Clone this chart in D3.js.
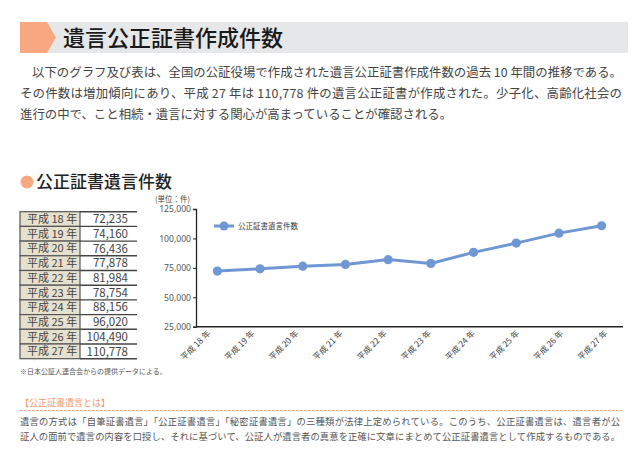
<!DOCTYPE html>
<html>
<head>
<meta charset="utf-8">
<script src="https://cdn.jsdelivr.net/npm/d3@7"></script>
<style>
  body { margin: 0; background: #fff; }
  svg { display: block; font-family: "Noto Sans CJK JP", "Noto Sans", sans-serif; }
</style>
</head>
<body>
<script>
// data
const years = ['平成 18 年', '平成 19 年', '平成 20 年', '平成 21 年', '平成 22 年',
               '平成 23 年', '平成 24 年', '平成 25 年', '平成 26 年', '平成 27 年'];
const counts = [72235, 74160, 76436, 77878, 81984, 78754, 88156, 96020, 104490, 110778];
const yTicks = [25000, 50000, 75000, 100000, 125000];
const seriesName = '公正証書遺言件数';

const title = '遺言公正証書作成件数';
const introLines = [
  '以下のグラフ及び表は、全国の公証役場で作成された遺言公正証書作成件数の過去 10 年間の推移である。',
  'その件数は増加傾向にあり、平成 27 年は 110,778 件の遺言公正証書が作成された。少子化、高齢化社会の',
  '進行の中で、こと相続・遺言に対する関心が高まっていることが確認される。'
];
const noteLines = [
  '遺言の方式は「自筆証書遺言」「公正証書遺言」「秘密証書遺言」の三種類が法律上定められている。このうち、公正証書遺言は、遺言者が公',
  '証人の面前で遺言の内容を口授し、それに基づいて、公証人が遺言者の真意を正確に文章にまとめて公正証書遺言として作成するものである。'
];

const W = 640, H = 458;
const orange = '#f7a881';
const blue = '#6f97d3';

const svg = d3.select('body').append('svg')
    .attr('width', W)
    .attr('height', H);

// title bar
svg.append('rect')
    .attr('x', 20).attr('y', 22).attr('width', 608).attr('height', 31)
    .attr('fill', '#e6e7e9');
svg.append('path')
    .attr('d', 'M20,22 H47 L56,37.5 L47,53 H20 Z')
    .attr('fill', orange);
svg.append('text')
    .attr('x', 63).attr('y', 38).attr('dy', '0.36em')
    .attr('font-size', 22).attr('font-weight', 500)
    .attr('fill', '#1a1a1a')
    .text(title);

// intro paragraph
svg.selectAll('.intro')
    .data(introLines)
    .join('text')
    .attr('class', 'intro')
    .attr('x', (d, i) => i === 0 ? 32 : 20)
    .attr('y', (d, i) => 73 + i * 21)
    .attr('dy', '0.36em')
    .attr('font-size', 12.4)
    .attr('fill', '#444')
    .attr('textLength', (d, i) => i === 0 ? 590 : (i === 1 ? 602 : null))
    .attr('lengthAdjust', 'spacing')
    .text(d => d);

// section heading
svg.append('circle').attr('cx', 27).attr('cy', 182).attr('r', 6.5).attr('fill', orange);
svg.append('text')
    .attr('x', 36).attr('y', 182).attr('dy', '0.36em')
    .attr('font-size', 17).attr('font-weight', 500)
    .attr('fill', '#222')
    .text(seriesName);

// table
const rowH = 14.7, tX = 20, tY = 211.7, colW = 60, valW = 57;
const table = svg.append('g');
const rows = table.selectAll('g')
    .data(years)
    .join('g')
    .attr('transform', (d, i) => `translate(${tX},${tY + i * rowH})`);
rows.append('rect')
    .attr('width', colW).attr('height', rowH)
    .attr('fill', '#e6e0cf')
    .attr('stroke', '#555').attr('stroke-width', 1.2);
rows.append('line')
    .attr('x1', colW).attr('x2', colW + valW)
    .attr('y1', rowH).attr('y2', rowH)
    .attr('stroke', '#444').attr('stroke-width', 1.4);
rows.append('text')
    .attr('x', 7).attr('y', rowH / 2).attr('dy', '0.36em')
    .attr('font-size', 11).attr('fill', '#444')
    .text(d => d);
rows.append('text')
    .attr('x', colW + valW - 9).attr('y', rowH / 2).attr('dy', '0.36em')
    .attr('text-anchor', 'end')
    .attr('font-size', 11.5).attr('fill', '#444')
    .text((d, i) => d3.format(',')(counts[i]));
table.append('line')
    .attr('x1', tX + colW).attr('x2', tX + colW + valW)
    .attr('y1', tY).attr('y2', tY)
    .attr('stroke', '#444').attr('stroke-width', 1.4);

svg.append('text')
    .attr('x', 20).attr('y', 371).attr('dy', '0.36em')
    .attr('font-size', 7).attr('fill', '#555')
    .text('※日本公証人連合会からの提供データによる。');

// chart
const x = d3.scaleBand().domain(years).range([196, 623]);
const y = d3.scaleLinear().domain([25000, 125000]).range([326.7, 209]);
const labelX = d3.scalePoint().domain(years).range([211, 608]);

const yAxis = svg.append('g')
    .attr('transform', 'translate(196,0)')
    .call(d3.axisLeft(y).tickValues(yTicks).tickSize(3).tickPadding(2).tickFormat(d3.format(',')));
yAxis.select('.domain').attr('stroke', '#222').attr('stroke-width', 1.3);
yAxis.selectAll('.tick line').attr('stroke', '#222');
yAxis.selectAll('.tick text')
    .attr('font-size', 8.6).attr('fill', '#555')
    .attr('font-family', '"Noto Sans", sans-serif');

svg.append('line')
    .attr('x1', 196).attr('x2', 623)
    .attr('y1', y(25000)).attr('y2', y(25000))
    .attr('stroke', '#222').attr('stroke-width', 1.5);

svg.append('text')
    .attr('x', 155).attr('y', 199.5).attr('dy', '0.36em')
    .attr('font-size', 7.5).attr('fill', '#444')
    .text('(単位：件)');

svg.append('g').selectAll('text')
    .data(years)
    .join('text')
    .attr('transform', d => `translate(${labelX(d)},334) rotate(-45)`)
    .attr('text-anchor', 'end')
    .attr('font-size', 8.3).attr('fill', '#444')
    .text(d => d);

const pts = years.map((d, i) => [x(d) + x.bandwidth() / 2, y(counts[i])]);
svg.append('path')
    .attr('d', d3.line()(pts))
    .attr('fill', 'none')
    .attr('stroke', blue).attr('stroke-width', 3);
svg.append('g').selectAll('circle')
    .data(pts)
    .join('circle')
    .attr('cx', d => d[0]).attr('cy', d => d[1])
    .attr('r', 4.6).attr('fill', blue);

// legend (with soft shadow)
const defs = svg.append('defs');
defs.append('filter').attr('id', 'blur')
    .append('feGaussianBlur').attr('stdDeviation', 1.2);
const lg = svg.append('g').attr('transform', 'translate(214,226)');
lg.append('line').attr('x1', 0).attr('x2', 20).attr('y1', 2).attr('y2', 2)
    .attr('stroke', '#999').attr('stroke-width', 3).attr('filter', 'url(#blur)');
lg.append('line').attr('x1', 0).attr('x2', 20)
    .attr('stroke', blue).attr('stroke-width', 3);
lg.append('circle').attr('cx', 10).attr('r', 4.6).attr('fill', blue);
lg.append('text')
    .attr('x', 24).attr('dy', '0.36em')
    .attr('font-size', 7.5).attr('fill', '#333')
    .text(seriesName);

// note box
svg.append('text')
    .attr('x', 20).attr('y', 403).attr('dy', '0.36em')
    .attr('font-size', 9).attr('fill', '#f29a6e')
    .text('【公正証書遺言とは】');
svg.append('line')
    .attr('x1', 20).attr('x2', 622).attr('y1', 410.5).attr('y2', 410.5)
    .attr('stroke', '#f6a57f').attr('stroke-width', 1)
    .attr('stroke-dasharray', '2.5,1.5');
svg.selectAll('.note')
    .data(noteLines)
    .join('text')
    .attr('class', 'note')
    .attr('x', 20)
    .attr('y', (d, i) => 422 + i * 15)
    .attr('dy', '0.36em')
    .attr('font-size', 9.3)
    .attr('fill', '#555')
    .attr('textLength', 600)
    .attr('lengthAdjust', 'spacing')
    .text(d => d);
</script>
</body>
</html>
